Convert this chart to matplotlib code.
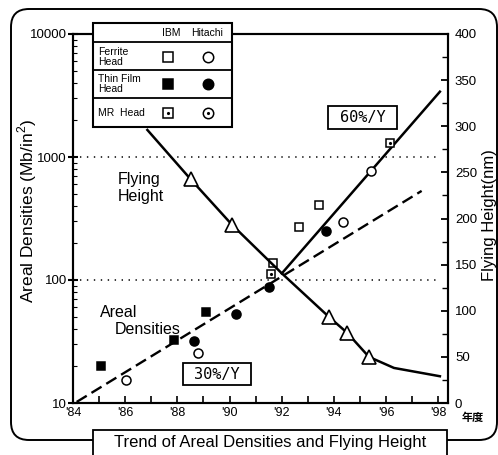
import matplotlib
matplotlib.use("Agg")
import matplotlib.pyplot as plt
from matplotlib.patches import FancyBboxPatch, Rectangle
from matplotlib.lines import Line2D
from matplotlib.transforms import IdentityTransform
from matplotlib.ticker import LogLocator, NullFormatter, MultipleLocator

plt.rcParams['font.family'] = ['Liberation Sans', 'DejaVu Sans']
plt.rcParams['lines.scale_dashes'] = False
plt.rcParams['mathtext.fontset'] = 'custom'
plt.rcParams['mathtext.rm'] = 'Liberation Sans'

W, H = 498, 455

# areal density measurements: year, Mb/in^2
ibm_ferrite_year = [91.67, 92.67, 93.44]
ibm_ferrite_ad = [137, 268, 408]
hitachi_ferrite_year = [86.03, 88.8, 94.36, 95.41]
hitachi_ferrite_ad = [15.4, 25.6, 298, 774]
ibm_thin_year = [85.06, 87.87, 89.08]
ibm_thin_ad = [20, 32.5, 54.6]
hitachi_thin_year = [88.64, 90.23, 91.52, 93.69]
hitachi_thin_ad = [31.9, 53, 88, 250]
ibm_mr_year = [91.57, 96.15]
ibm_mr_ad = [112, 1291]

# trend lines
trend30_year = [84.14, 97.36]
trend30_ad = [10.2, 530]
trend60_year = [92.0, 98.06]
trend60_ad = [113, 3396]

# flying height (nm)
fh_year = [88.51, 90.1, 93.82, 94.51, 95.34]
fh_nm = [242.5, 193, 93, 76, 50]
fh_curve_year = [86.85, 88.51, 90.1, 92.0, 93.82, 94.51, 95.34, 96.3, 98.06]
fh_curve_nm = [296, 242.5, 193, 140.6, 93, 76, 50, 38, 29]

year_ticks = [84, 86, 88, 90, 92, 94, 96, 98]
year_labels = ["'84", "'86", "'88", "'90", "'92", "'94", "'96", "'98"]
ad_ticks = [10, 100, 1000, 10000]
ad_labels = ['10', '100', '1000', '10000']
fh_ticks = [0, 50, 100, 150, 200, 250, 300, 350, 400]


def fx(x):
    return x / W


def fy(y):
    return 1 - y / H


fig = plt.figure(figsize=(W / 100, H / 100), dpi=100)

ax = fig.add_axes([fx(73), fy(403), (448 - 73) / W, (403 - 34) / H])
ax.set_yscale('log')
ax.set_ylim(10, 10000)
ax.set_xlim(84, 98.37)
ax2 = ax.twinx()
ax2.set_ylim(0, 400)

for a in (ax, ax2):
    for s in a.spines.values():
        s.set_linewidth(1.5)

# reference levels
for lvl in (100, 1000):
    ax.plot([84, 98.1], [lvl, lvl], color='k', lw=1.1, ls=(0, (1, 4)))

# trend lines
ax.plot(trend30_year, trend30_ad, color='k', lw=1.7, ls=(0, (8.5, 4)))
ax.plot(trend60_year, trend60_ad, color='k', lw=1.8)

# markers
mk = dict(ls='none', mec='k', mew=1.1, zorder=4)
ax.plot(ibm_ferrite_year, ibm_ferrite_ad, 's', ms=5.5, mfc='white', **mk)
ax.plot(hitachi_ferrite_year, hitachi_ferrite_ad, 'o', ms=6.5, mfc='white', **mk)
ax.plot(ibm_thin_year, ibm_thin_ad, 's', ms=5.5, mfc='k', **mk)
ax.plot(hitachi_thin_year, hitachi_thin_ad, 'o', ms=6.5, mfc='k', **mk)
ax.plot(ibm_mr_year, ibm_mr_ad, 's', ms=5.5, mfc='white', **mk)
ax.plot(ibm_mr_year, ibm_mr_ad, '.', ms=2.5, color='k', zorder=5)

# flying height
ax2.plot(fh_curve_year, fh_curve_nm, color='k', lw=1.8)
ax2.plot(fh_year, fh_nm, '^', ms=10, mfc='white', mec='k', mew=1.2, ls='none', zorder=4)

# ticks
ax.set_xticks(year_ticks)
ax.set_xticklabels(year_labels)
ax.set_xticks([85, 87, 89, 91, 93, 95, 97], minor=True)
ax.tick_params(axis='x', which='both', direction='in', length=5, width=1.2, pad=3,
               labelsize=9)
ax.set_yticks(ad_ticks)
ax.set_yticklabels(ad_labels)
ax.yaxis.set_minor_locator(LogLocator(base=10, subs=range(2, 10)))
ax.yaxis.set_minor_formatter(NullFormatter())
ax.tick_params(axis='y', which='major', direction='inout', length=7, width=1.5, pad=1,
               labelsize=9.5)
ax.tick_params(axis='y', which='minor', direction='in', length=3, width=0.8)
ax2.set_yticks(fh_ticks)
ax2.yaxis.set_minor_locator(MultipleLocator(25))
ax2.tick_params(axis='y', which='major', direction='in', length=5, width=1.3, pad=5,
                labelsize=9.5)
ax2.tick_params(axis='y', which='minor', direction='in', length=4, width=1.0)

# in-plot labels
fig.text(fx(118), fy(184), 'Flying', fontsize=11.5, va='baseline')
fig.text(fx(118), fy(201), 'Height', fontsize=11.5, va='baseline')
fig.text(fx(100), fy(317), 'Areal', fontsize=11.5, va='baseline')
fig.text(fx(115), fy(334), 'Densities', fontsize=11.5, va='baseline')

for (x0, x1, y0, y1, s) in [(328.3, 396.7, 105.7, 129, '60%/Y'), (183, 251, 363, 385, '30%/Y')]:
    fig.add_artist(Rectangle((fx(x0), fy(y1)), (x1 - x0) / W, (y1 - y0) / H,
                             transform=fig.transFigure, fc='white', ec='k', lw=1.3, zorder=5))
    fig.text(fx((x0 + x1) / 2), fy((y0 + y1) / 2), s, family='DejaVu Sans Mono',
             fontsize=11, ha='center', va='center', zorder=6)

# legend table
lx0, lx1, ly0, ly1 = 92.7, 231.7, 22.7, 126.7
fig.add_artist(Rectangle((fx(lx0), fy(ly1)), (lx1 - lx0) / W, (ly1 - ly0) / H,
                         transform=fig.transFigure, fc='white', ec='k', lw=1.5, zorder=5))
for yy in (41.7, 70, 98.3):
    fig.add_artist(Line2D([fx(lx0), fx(lx1)], [fy(yy), fy(yy)], transform=fig.transFigure,
                          color='k', lw=1.3, zorder=6))
fig.text(fx(171.5), fy(33), 'IBM', fontsize=7.5, ha='center', va='center', zorder=6)
fig.text(fx(207), fy(33), 'Hitachi', fontsize=7.5, ha='center', va='center', zorder=6)
rows = [('Ferrite\nHead', 57, 'white'), ('Thin Film\nHead', 83.5, 'k'), ('MR  Head', 112.5, 'white')]
for label, yy, fc in rows:
    fig.text(fx(98), fy(yy), label, fontsize=7.5, ha='left', va='center', linespacing=1.0, zorder=6)
    fig.add_artist(Line2D([fx(167.5)], [fy(yy)], marker='s', ms=6.5, mfc=fc, mec='k', mew=1.1,
                          transform=fig.transFigure, zorder=6))
    fig.add_artist(Line2D([fx(207.5)], [fy(yy)], marker='o', ms=7.5, mfc=fc, mec='k', mew=1.1,
                          transform=fig.transFigure, zorder=6))
    if label.startswith('MR'):
        for xx in (167.5, 207.5):
            fig.add_artist(Line2D([fx(xx)], [fy(yy)], marker='.', ms=2.5, color='k',
                                  transform=fig.transFigure, zorder=7))

# axis titles
fig.text(fx(27), fy(211), 'Areal Densities (Mb/in$^{2}$)', rotation=90, fontsize=12.5,
         ha='center', va='center')
fig.text(fx(489), fy(215), 'Flying Height(nm)', rotation=90, fontsize=12,
         ha='center', va='center')
fig.text(fx(473), fy(417), '年度', family=['Noto Sans CJK JP', 'DejaVu Sans'], fontsize=8,
         fontweight='bold', ha='center', va='center')

# rounded outer frame and caption box
fig.add_artist(FancyBboxPatch((11, H - 440), 497 - 11, 440 - 9,
                              boxstyle='round,pad=0,rounding_size=18',
                              transform=IdentityTransform(), fc='none', ec='k', lw=1.4, zorder=1))
fig.add_artist(Rectangle((92.7, H - 465), 447 - 92.7, 35, transform=IdentityTransform(),
                         fc='white', ec='k', lw=1.3, zorder=2))
fig.text(fx(270), fy(443), 'Trend of Areal Densities and Flying Height', fontsize=12,
         ha='center', va='center', zorder=3)

fig.savefig('out.png', dpi=100)
